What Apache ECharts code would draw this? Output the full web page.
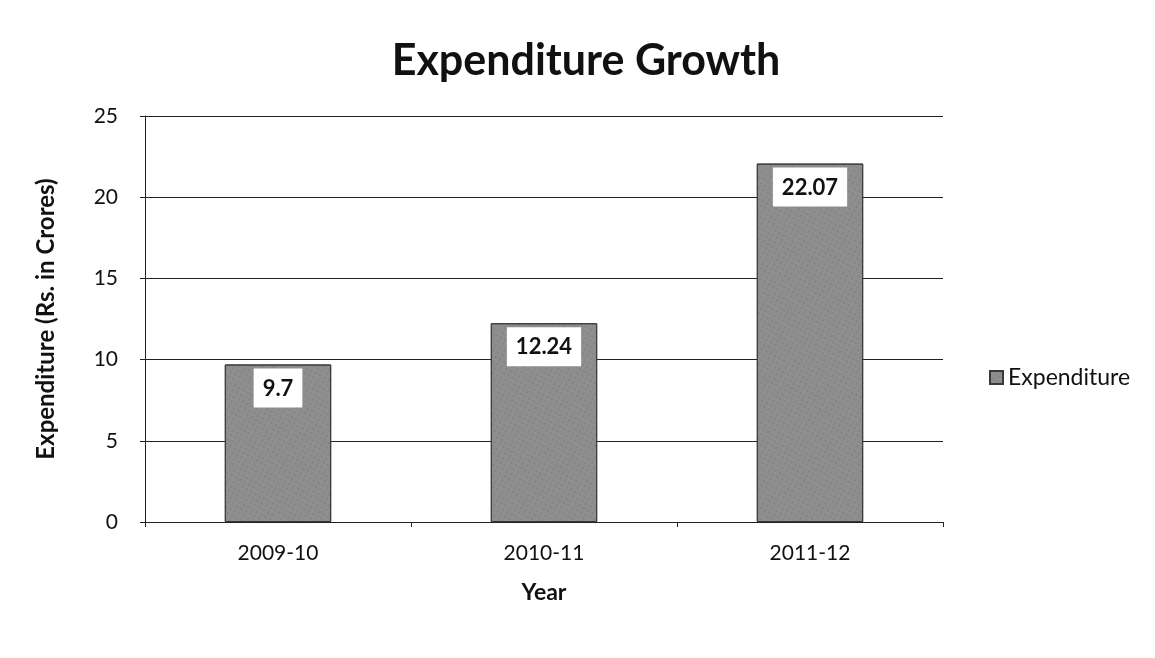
<!DOCTYPE html>
<html>
<head>
<meta charset="utf-8">
<script src="https://cdn.jsdelivr.net/npm/echarts@6/dist/echarts.min.js"></script>
<style>
  html, body { margin: 0; padding: 0; background: #fff; }
  #chart { width: 1155px; height: 658px; }
</style>
</head>
<body>
<div id="chart"></div>
<script>
// data
const years = ["2009-10", "2010-11", "2011-12"];
const expenditure = [9.7, 12.24, 22.07];
const seriesName = "Expenditure";

const myChart = echarts.init(document.getElementById("chart"));
const font = "Lato, 'Open Sans', sans-serif";

const option = {
  backgroundColor: "#fff",
  textStyle: { fontFamily: font },
  title: {
    text: "Expenditure Growth",
    left: 581,
    top: 35,
    textAlign: "center",
    textStyle: { fontSize: 43, fontWeight: "bold", color: "#111", fontFamily: font },
  },
  legend: {
    orient: "vertical",
    left: 984,
    top: 361,
    icon: "rect",
    itemWidth: 13,
    itemHeight: 13,
    itemGap: 6,
    textStyle: { fontSize: 23, color: "#111", fontFamily: font },
    data: [seriesName],
  },
  grid: { left: 145, right: 212, top: 116, bottom: 136, containLabel: false },
  xAxis: {
    type: "category",
    data: years,
    name: "Year",
    nameLocation: "middle",
    nameGap: 59,
    nameTextStyle: { fontSize: 23, fontWeight: "bold", color: "#111" },
    axisLine: { lineStyle: { color: "#222" } },
    axisTick: { show: true, alignWithLabel: false, lineStyle: { color: "#222" } },
    axisLabel: { fontSize: 21, color: "#111", margin: 21 },
  },
  yAxis: {
    type: "value",
    min: 0,
    max: 25,
    interval: 5,
    name: "Expenditure (Rs. in Crores)",
    nameLocation: "middle",
    nameGap: 87,
    nameTextStyle: { fontSize: 24, fontWeight: "bold", color: "#111" },
    axisLine: { show: true, lineStyle: { color: "#222" } },
    axisTick: { show: true, length: 5, lineStyle: { color: "#222" } },
    axisLabel: { fontSize: 21, color: "#111", margin: 27 },
    splitLine: { lineStyle: { color: "#222", width: 1 } },
  },
  series: [
    {
      name: seriesName,
      type: "bar",
      data: expenditure,
      barWidth: "40%",
      itemStyle: {
        color: "#8e8e8e",
        borderColor: "#3a3a3a",
        borderWidth: 1,
        decal: {
          symbol: "rect",
          symbolSize: 0.6,
          color: "rgba(40,40,40,0.35)",
          dashArrayX: [2, 3],
          dashArrayY: [2, 3],
          rotation: 0.5,
        },
      },
      label: {
        show: true,
        position: "insideTop",
        distance: 4,
        backgroundColor: "#fff",
        padding: [9, 9, 8, 9],
        fontSize: 22,
        fontWeight: "bold",
        color: "#111",
      },
    },
  ],
};

myChart.setOption(option);
</script>
</body>
</html>
